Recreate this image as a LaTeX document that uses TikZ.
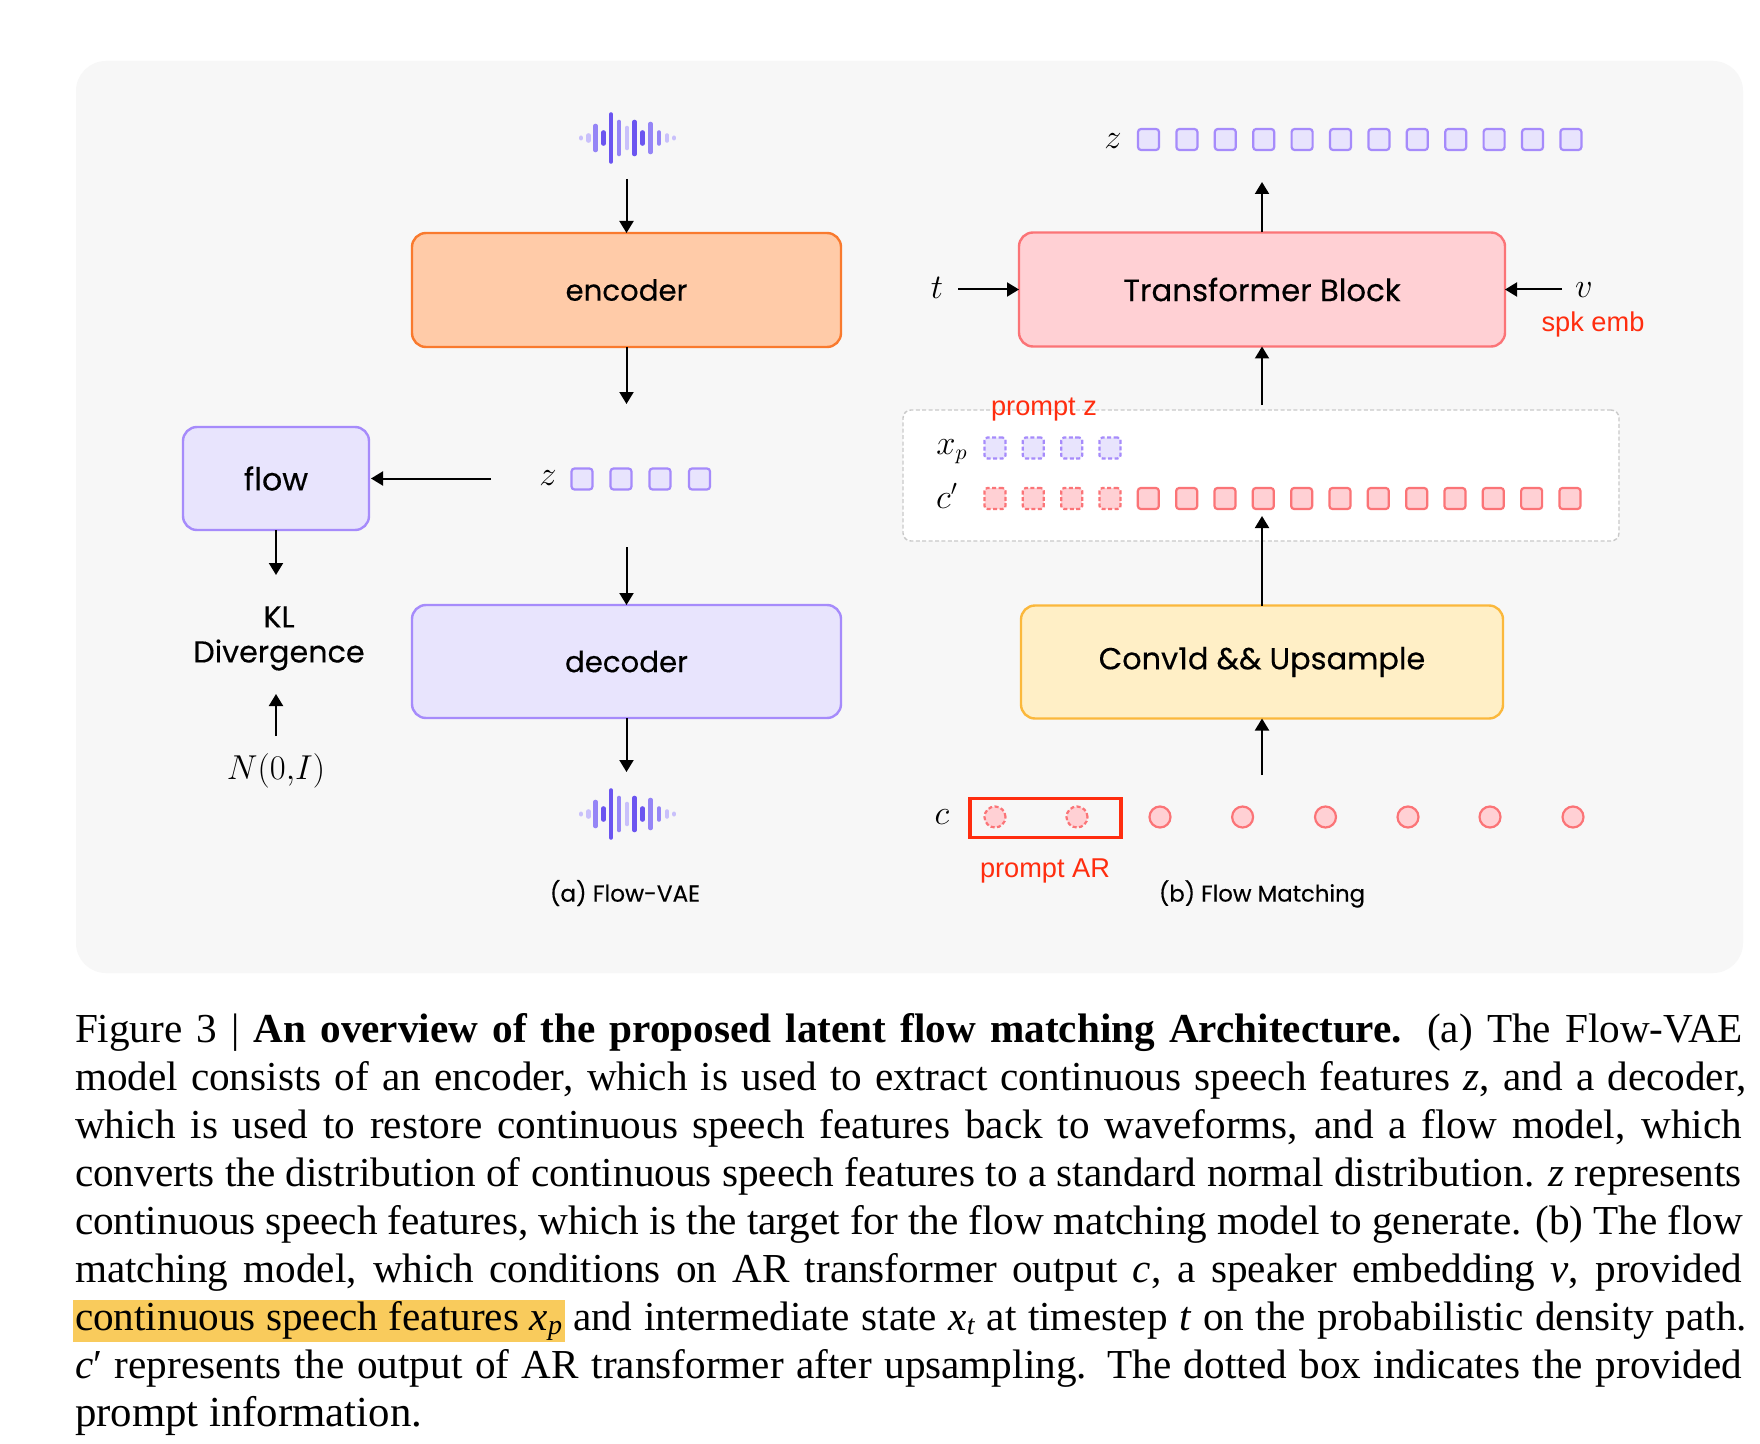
\documentclass[tikz,border=0pt]{standalone}
\usepackage{fontspec}
\setmainfont{Liberation Serif}
\newfontfamily\dgfont[FakeBold=0.3]{Poppins}
\newfontfamily\redfont{Liberation Sans}
\usetikzlibrary{arrows.meta}
\definecolor{panelbg}{HTML}{F7F7F7}
\definecolor{encfill}{HTML}{FFCBA8}
\definecolor{encline}{HTML}{F97A2E}
\definecolor{purfill}{HTML}{E8E4FD}
\definecolor{purline}{HTML}{A68BFB}
\definecolor{redfill}{HTML}{FFD0D4}
\definecolor{redline}{HTML}{FB7477}
\definecolor{yelfill}{HTML}{FFEFC6}
\definecolor{yelline}{HTML}{FBB83C}
\definecolor{dashline}{HTML}{C9C9C9}
\definecolor{annot}{HTML}{FF2D0F}
\definecolor{hilite}{HTML}{F9CB5C}
\definecolor{wdark}{HTML}{6B55F0}
\definecolor{wmid}{HTML}{9585F6}
\definecolor{wlight}{HTML}{C9C0FB}
\tikzset{
  box/.style={draw,rounded corners=7pt,line width=1.2pt,inner sep=0pt,outer sep=0pt,
    font=\dgfont\fontsize{14.6}{17}\selectfont},
  bigbox/.style={box,font=\dgfont\fontsize{15.4}{17}\selectfont},
  arr/.style={-{Triangle[length=6pt,width=7pt]},line width=1pt,black},
  sq/.style={draw,rounded corners=1.5pt,line width=1.1pt,minimum size=10.5pt,inner sep=0pt,outer sep=0pt},
  purs/.style={sq,fill=purfill,draw=purline},
  reds/.style={sq,fill=redfill,draw=redline},
  dashy/.style={dash pattern=on 2pt off 1.2pt},
  circ/.style={circle,draw=redline,fill=redfill,line width=1.1pt,minimum size=10.5pt,inner sep=0pt,outer sep=0pt},
  mathl/.style={inner sep=0pt,font=\fontsize{16}{18}\selectfont},
  sanslab/.style={inner sep=0pt,font=\dgfont\fontsize{11.6}{13}\selectfont},
  redlab/.style={inner sep=0pt,text=annot,font=\redfont\fontsize{13.6}{15}\selectfont},
  capline/.style={anchor=base west,inner sep=0pt,outer sep=0pt,font=\fontsize{20.6}{24}\selectfont},
  bar/.style={line cap=round,line width=2.3pt}
}
\newcommand{\soundwave}[2]{%
  \foreach \dx/\hh/\cc in {-46.5/0.2/wlight,-39/2.5/wlight,-32/12/wmid,-24/5.5/wdark,-16.5/23.5/wdark,-8.5/16/wmid,-0.5/10/wlight,7/16/wdark,15/5.5/wdark,23/14/wmid,31.5/5.5/wmid,39.5/2.5/wlight,46.5/0.2/wlight}
    \draw[bar,draw=\cc] (#1+\dx,#2-\hh) -- (#1+\dx,#2+\hh);
}
\begin{document}
\begin{tikzpicture}[x=0.5pt,y=-0.5pt]
\useasboundingbox (0,0) rectangle (1760,1444);
\fill[white] (0,0) rectangle (1760,1444);
\fill[panelbg,rounded corners=15pt] (76,61) rectangle (1743,973);

% Flow-VAE
\node[box,fill=encfill,draw=encline,minimum width=214.5pt,minimum height=57pt] (enc) at (626.5,290) {\raisebox{-0.5pt}{encoder}};
\node[box,fill=purfill,draw=purline,minimum width=214.5pt,minimum height=56.5pt] (dec) at (626.5,661.5) {\raisebox{-0.3pt}{decoder}};
\node[bigbox,fill=purfill,draw=purline,font=\dgfont\fontsize{15.8}{17}\selectfont,minimum width=93pt,minimum height=51.5pt] (flow) at (276,478.5) {\raisebox{-0.5pt}{flow}};
\node[inner sep=0pt,minimum width=48pt,minimum height=26pt] (wavetop) at (627.5,138) {};
\node[inner sep=0pt,minimum width=48pt,minimum height=26pt] (wavebot) at (627.5,814) {};
\soundwave{627.5}{138}
\soundwave{627.5}{814}
\node[mathl] (zleft) at (548,478) {$z$};
\foreach \i/\x in {1/582,2/621,3/660,4/699.5}
  \node[purs] (za\i) at (\x,479) {};
\node[inner sep=0pt,align=center,font=\dgfont\fontsize{15.1}{17.5}\selectfont] (kl) at (279,638.5) {KL\\Divergence};
\node[inner sep=0pt,font=\fontsize{17.5}{19}\selectfont] (normal) at (276,771) {$N(0{,}I)$};
\node[sanslab] (capa) at (625,893) {(a) Flow-VAE};

\coordinate (w1out) at (626.5,179);
\coordinate (encout) at (626.5,404);
\coordinate (zdecin) at (626.5,547);
\coordinate (zflow) at (491,478.5);
\coordinate (decout) at (626.5,772);
\coordinate (klin) at (276,575);
\coordinate (klup) at (276,694);
\coordinate (nout) at (276,736);
\draw[arr] (w1out) -- (enc.north);
\draw[arr] (enc.south) -- (encout);
\draw[arr] (zdecin) -- (dec.north);
\draw[arr,shorten >=1pt] (zflow) -- (flow.east);
\draw[arr] (dec.south) -- (decout);
\draw[arr] (flow.south) -- (klin);
\draw[arr] (nout) -- (klup);

% Flow Matching
\node[bigbox,fill=redfill,draw=redline,minimum width=243pt,minimum height=57pt] (trans) at (1262,289.5) {\raisebox{-0.5pt}{Transformer Block}};
\node[bigbox,fill=yelfill,draw=yelline,font=\dgfont\fontsize{15.2}{17}\selectfont,minimum width=241pt,minimum height=56.5pt] (conv) at (1262,662) {\raisebox{-1.6pt}{Conv1d \&\& Upsample}};
\node[draw=dashline,fill=white,dashy,rounded corners=4pt,line width=0.7pt,minimum width=358pt,minimum height=65.5pt,inner sep=0pt,outer sep=0pt] (prompt) at (1261,475.5) {};
\node[mathl] (ztop) at (1113,141) {$z$};
\foreach \i in {0,...,11}
  \node[purs] (zt\i) at ({1148.5+38.4*\i},139.5) {};
\node[mathl] (tlab) at (937,288) {$t$};
\node[mathl] (vlab) at (1584,290) {$v$};
\node[redlab] (spk) at (1593,324.5) {spk emb};
\node[redlab] (pz) at (1044,409.5) {prompt z};
\node[mathl] (xplab) at (952,452) {$x_p$};
\node[mathl] (cplab) at (947,496) {$c'$};
\node[mathl] (clab) at (942,817) {$c$};
\foreach \i in {0,...,3}
  \node[purs,dashy] (xp\i) at ({995+38.33*\i},448) {};
\foreach \i in {0,...,3}
  \node[reds,dashy] (cp\i) at ({995+38.33*\i},498.5) {};
\foreach \i in {4,...,15}
  \node[reds] (cp\i) at ({995+38.33*\i},498.5) {};
\node[circ,dashy] (ca0) at (995,817) {};
\node[circ,dashy] (ca1) at (1077,817) {};
\foreach \i/\x in {2/1160,3/1242.6,4/1325.5,5/1408,6/1490,7/1573}
  \node[circ] (ca\i) at (\x,817) {};
\node[draw=annot,line width=1.9pt,minimum width=75.5pt,minimum height=19.5pt,inner sep=0pt,outer sep=0pt] (parbox) at (1045.5,818) {};
\node[redlab] (par) at (1045,871) {prompt AR};
\node[sanslab,font=\dgfont\fontsize{11.4}{13}\selectfont] (capb) at (1262,894) {(b) Flow Matching};

\coordinate (topin) at (1262,182);
\coordinate (tin) at (958,289.5);
\coordinate (vin) at (1562,289.5);
\coordinate (promptout) at (1262,405);
\coordinate (cptip) at (1262,516);
\coordinate (cup) at (1262,775);
\draw[arr] (trans.north) -- (topin);
\draw[arr] (tin) -- (trans.west);
\draw[arr] (vin) -- (trans.east);
\draw[arr] (promptout) -- (trans.south);
\draw[arr] (conv.north) -- (cptip);
\draw[arr] (cup) -- (conv.south);

% Caption
\fill[hilite] (73,1300) rectangle (564.7,1342);
\node[capline] (l1) at (75,1042) {\makebox[834pt][s]{Figure 3 | \textbf{An overview of the proposed latent flow matching Architecture.} (a) The Flow-VAE}};
\node[capline] (l2) at (75,1090) {\makebox[835.75pt][s]{model consists of an encoder, which is used to extract continuous speech features \textit{z}, and a decoder,}};
\node[capline] (l3) at (75,1138) {\makebox[833.5pt][s]{which is used to restore continuous speech features back to waveforms, and a flow model, which}};
\node[capline] (l4) at (75,1186) {\makebox[833.5pt][s]{converts the distribution of continuous speech features to a standard normal distribution. \textit{z} represents}};
\node[capline] (l5) at (75,1234) {\makebox[834pt][s]{continuous speech features, which is the target for the flow matching model to generate. (b) The flow}};
\node[capline] (l6) at (75,1282) {\makebox[833.5pt][s]{matching model, which conditions on AR transformer output \textit{c}, a speaker embedding \textit{v}, provided}};
\node[capline] (l7a) at (75,1330) {\makebox[243.5pt][s]{continuous speech features \textit{x}\raisebox{-0.25ex}{\fontsize{14}{16}\selectfont\textit{p}}}};
\node[capline] (l7b) at (573,1330) {\makebox[587pt][s]{and intermediate state \textit{x}\raisebox{-0.25ex}{\fontsize{14}{16}\selectfont\textit{t}} at timestep \textit{t} on the probabilistic density path.}};
\node[capline] (l8) at (75,1378) {\makebox[833.5pt][s]{\textit{c}′ represents the output of AR transformer after upsampling. The dotted box indicates the provided}};
\node[capline,font=\fontsize{21.4}{24}\selectfont] (l9) at (75,1426.5) {prompt information.};
\end{tikzpicture}
\end{document}
